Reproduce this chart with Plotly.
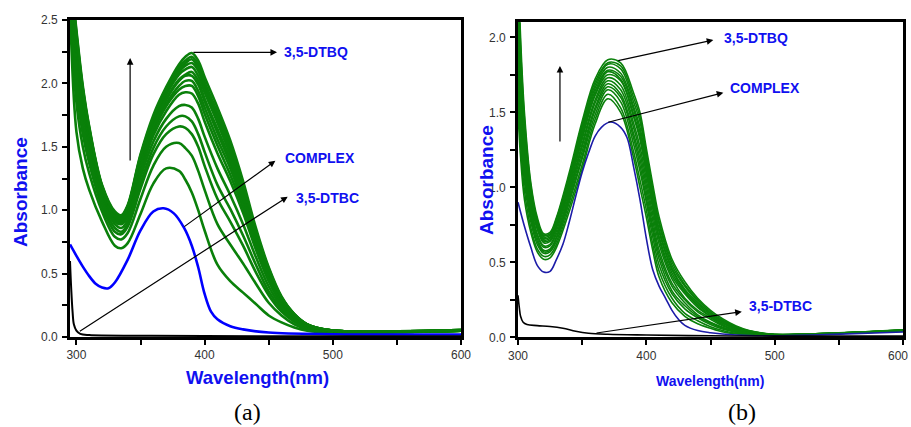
import plotly.graph_objects as go

# ---------------- data: panel (a) ----------------
wl_a = [295, 300, 305, 310, 320, 330, 335, 340, 350, 360, 370, 380, 385, 390, 395, 400,
        410, 420, 430, 440, 450, 460, 470, 480, 500, 550, 600]

a_g01 = [2.60, 1.62, 1.33, 1.16, 0.91, 0.72, 0.70, 0.74, 0.97, 1.21, 1.33, 1.31, 1.24, 1.14, 1.00, 0.84,
         0.57, 0.44, 0.35, 0.26, 0.17, 0.115, 0.075, 0.05, 0.035, 0.04, 0.05]
a_g02 = [2.65, 1.85, 1.50, 1.29, 0.99, 0.79, 0.77, 0.82, 1.09, 1.35, 1.50, 1.53, 1.49, 1.43, 1.31, 1.16,
         0.89, 0.73, 0.58, 0.42, 0.27, 0.17, 0.10, 0.06, 0.04, 0.04, 0.05]
a_g03 = [2.70, 1.97, 1.60, 1.37, 1.03, 0.83, 0.81, 0.87, 1.17, 1.44, 1.60, 1.66, 1.65, 1.60, 1.50, 1.35,
         1.09, 0.91, 0.72, 0.51, 0.33, 0.20, 0.12, 0.07, 0.04, 0.04, 0.05]
a_g04 = [2.72, 2.04, 1.66, 1.42, 1.06, 0.86, 0.83, 0.89, 1.21, 1.49, 1.66, 1.74, 1.74, 1.70, 1.60, 1.46,
         1.20, 1.01, 0.80, 0.57, 0.36, 0.22, 0.13, 0.08, 0.04, 0.04, 0.05]
a_g05 = [2.75, 2.12, 1.73, 1.47, 1.09, 0.89, 0.86, 0.92, 1.26, 1.54, 1.72, 1.82, 1.83, 1.81, 1.72, 1.58,
         1.33, 1.12, 0.89, 0.63, 0.40, 0.24, 0.14, 0.08, 0.04, 0.04, 0.05]
a_g06 = [2.78, 2.20, 1.79, 1.52, 1.12, 0.91, 0.89, 0.95, 1.30, 1.59, 1.78, 1.91, 1.93, 1.92, 1.84, 1.70,
         1.45, 1.23, 0.98, 0.69, 0.44, 0.26, 0.15, 0.09, 0.05, 0.04, 0.05]
a_g07 = [2.80, 2.24, 1.82, 1.54, 1.13, 0.93, 0.90, 0.97, 1.33, 1.62, 1.82, 1.95, 1.98, 1.98, 1.90, 1.76,
         1.51, 1.28, 1.02, 0.72, 0.46, 0.27, 0.16, 0.09, 0.05, 0.04, 0.05]
a_g08 = [2.81, 2.27, 1.85, 1.56, 1.14, 0.94, 0.91, 0.98, 1.35, 1.64, 1.84, 1.98, 2.02, 2.02, 1.94, 1.81,
         1.56, 1.33, 1.05, 0.74, 0.47, 0.28, 0.16, 0.09, 0.05, 0.045, 0.05]
a_g09 = [2.82, 2.30, 1.88, 1.58, 1.15, 0.95, 0.92, 0.99, 1.37, 1.66, 1.87, 2.02, 2.06, 2.06, 1.99, 1.86,
         1.61, 1.37, 1.09, 0.76, 0.49, 0.29, 0.16, 0.09, 0.05, 0.045, 0.05]
a_g10 = [2.83, 2.31, 1.89, 1.59, 1.16, 0.95, 0.92, 1.00, 1.37, 1.67, 1.88, 2.03, 2.07, 2.09, 2.02, 1.88,
         1.64, 1.40, 1.11, 0.78, 0.50, 0.29, 0.17, 0.09, 0.05, 0.045, 0.05]
a_g11 = [2.84, 2.34, 1.92, 1.61, 1.17, 0.96, 0.93, 1.01, 1.39, 1.70, 1.91, 2.07, 2.11, 2.13, 2.06, 1.93,
         1.69, 1.44, 1.14, 0.80, 0.51, 0.30, 0.17, 0.10, 0.05, 0.045, 0.055]
a_g12 = [2.85, 2.37, 1.94, 1.63, 1.18, 0.97, 0.94, 1.02, 1.41, 1.71, 1.93, 2.09, 2.14, 2.16, 2.10, 1.97,
         1.72, 1.47, 1.17, 0.82, 0.52, 0.31, 0.17, 0.10, 0.05, 0.045, 0.055]
a_g13 = [2.86, 2.38, 1.95, 1.64, 1.19, 0.98, 0.95, 1.03, 1.42, 1.72, 1.94, 2.11, 2.16, 2.19, 2.12, 1.99,
         1.75, 1.50, 1.19, 0.83, 0.53, 0.31, 0.18, 0.10, 0.05, 0.045, 0.055]
a_g14 = [2.88, 2.40, 1.96, 1.65, 1.19, 0.98, 0.95, 1.03, 1.43, 1.73, 1.95, 2.13, 2.18, 2.21, 2.15, 2.01,
         1.77, 1.52, 1.20, 0.84, 0.54, 0.31, 0.18, 0.10, 0.05, 0.045, 0.055]
a_g15 = [2.90, 2.42, 1.98, 1.66, 1.20, 0.99, 0.96, 1.04, 1.44, 1.75, 1.97, 2.15, 2.21, 2.24, 2.18, 2.05,
         1.81, 1.55, 1.23, 0.86, 0.55, 0.32, 0.18, 0.10, 0.05, 0.045, 0.055]

wl_a_complex = [295, 300, 305, 310, 315, 320, 325, 330, 340, 350, 360, 368, 376, 384, 390, 395, 400,
                405, 410, 420, 430, 450, 500, 600]
a_complex = [0.73, 0.64, 0.555, 0.48, 0.42, 0.39, 0.385, 0.43, 0.61, 0.84, 0.99, 1.015, 0.975, 0.86,
             0.72, 0.55, 0.34, 0.20, 0.14, 0.085, 0.06, 0.035, 0.022, 0.02]

wl_a_dtbc = [295, 296, 297, 298, 300, 303, 310, 350, 400, 500, 600]
a_dtbc = [0.60, 0.37, 0.20, 0.10, 0.05, 0.025, 0.015, 0.01, 0.008, 0.005, 0.005]

# ---------------- data: panel (b) ----------------
wl_b = [300, 302, 305, 310, 315, 320, 325, 330, 340, 350, 360, 370, 380, 390, 395, 400, 405, 410,
        420, 430, 440, 450, 460, 470, 480, 500, 550, 600]

b_g01 = [1.50, 1.20, 0.92, 0.70, 0.57, 0.52, 0.53, 0.60, 0.84, 1.12, 1.42, 1.59, 1.50, 1.20, 1.00, 0.80, 0.58, 0.40,
         0.23, 0.14, 0.09, 0.06, 0.035, 0.022, 0.015, 0.012, 0.025, 0.04]
b_g02 = [1.61, 1.28, 0.98, 0.73, 0.59, 0.54, 0.55, 0.62, 0.87, 1.15, 1.45, 1.62, 1.53, 1.24, 1.05, 0.85, 0.62, 0.44,
         0.26, 0.16, 0.11, 0.07, 0.044, 0.027, 0.018, 0.013, 0.026, 0.041]
b_g03 = [1.72, 1.37, 1.04, 0.77, 0.62, 0.56, 0.57, 0.64, 0.90, 1.19, 1.48, 1.65, 1.57, 1.29, 1.11, 0.90, 0.67, 0.48,
         0.29, 0.19, 0.13, 0.085, 0.053, 0.033, 0.021, 0.014, 0.026, 0.042]
b_g04 = [1.80, 1.43, 1.09, 0.80, 0.64, 0.57, 0.58, 0.66, 0.92, 1.21, 1.51, 1.67, 1.60, 1.33, 1.15, 0.93, 0.71, 0.52,
         0.31, 0.21, 0.14, 0.095, 0.06, 0.037, 0.024, 0.014, 0.026, 0.043]
b_g05 = [1.89, 1.50, 1.14, 0.82, 0.66, 0.58, 0.59, 0.67, 0.94, 1.24, 1.53, 1.69, 1.62, 1.36, 1.19, 0.97, 0.74, 0.55,
         0.34, 0.23, 0.15, 0.10, 0.066, 0.042, 0.026, 0.015, 0.027, 0.044]
b_g06 = [1.98, 1.57, 1.19, 0.85, 0.68, 0.60, 0.61, 0.69, 0.96, 1.27, 1.56, 1.71, 1.65, 1.40, 1.23, 1.01, 0.78, 0.58,
         0.36, 0.25, 0.17, 0.12, 0.074, 0.046, 0.029, 0.016, 0.027, 0.045]
b_g07 = [2.07, 1.63, 1.23, 0.88, 0.69, 0.61, 0.62, 0.71, 0.98, 1.29, 1.58, 1.73, 1.68, 1.43, 1.27, 1.05, 0.82, 0.62,
         0.39, 0.26, 0.18, 0.13, 0.081, 0.051, 0.031, 0.016, 0.028, 0.045]
b_g08 = [2.16, 1.70, 1.29, 0.91, 0.72, 0.63, 0.64, 0.73, 1.00, 1.32, 1.61, 1.75, 1.71, 1.47, 1.32, 1.09, 0.86, 0.65,
         0.41, 0.29, 0.20, 0.14, 0.089, 0.055, 0.034, 0.017, 0.028, 0.046]
b_g09 = [2.21, 1.74, 1.31, 0.92, 0.73, 0.64, 0.65, 0.74, 1.02, 1.34, 1.62, 1.77, 1.72, 1.49, 1.34, 1.11, 0.88, 0.67,
         0.43, 0.30, 0.21, 0.14, 0.093, 0.058, 0.035, 0.017, 0.028, 0.047]
b_g10 = [2.28, 1.79, 1.35, 0.94, 0.74, 0.65, 0.66, 0.75, 1.03, 1.36, 1.64, 1.78, 1.74, 1.52, 1.37, 1.14, 0.91, 0.70,
         0.45, 0.31, 0.22, 0.15, 0.10, 0.061, 0.037, 0.018, 0.029, 0.047]
b_g11 = [2.34, 1.84, 1.38, 0.96, 0.75, 0.66, 0.67, 0.76, 1.05, 1.38, 1.66, 1.80, 1.76, 1.54, 1.40, 1.17, 0.93, 0.72,
         0.46, 0.32, 0.23, 0.16, 0.10, 0.064, 0.039, 0.018, 0.029, 0.048]
b_g12 = [2.41, 1.90, 1.43, 0.99, 0.77, 0.67, 0.68, 0.77, 1.07, 1.40, 1.68, 1.82, 1.79, 1.57, 1.44, 1.20, 0.96, 0.75,
         0.48, 0.34, 0.24, 0.16, 0.11, 0.068, 0.041, 0.019, 0.029, 0.049]
b_g13 = [2.48, 1.94, 1.46, 1.01, 0.78, 0.68, 0.69, 0.79, 1.08, 1.42, 1.70, 1.83, 1.81, 1.60, 1.47, 1.23, 0.99, 0.77,
         0.50, 0.35, 0.25, 0.17, 0.11, 0.071, 0.043, 0.019, 0.030, 0.049]
b_g14 = [2.55, 2.00, 1.50, 1.03, 0.80, 0.69, 0.70, 0.80, 1.10, 1.44, 1.72, 1.85, 1.83, 1.63, 1.50, 1.26, 1.02, 0.80,
         0.52, 0.37, 0.26, 0.18, 0.12, 0.075, 0.045, 0.02, 0.03, 0.05]

wl_b_complex = [300, 305, 310, 315, 320, 325, 330, 335, 340, 345, 350, 355, 360, 365, 372, 380, 385, 390, 395,
                400, 405, 410, 415, 420, 425, 430, 440, 450, 470, 500, 540, 600]
b_complex = [0.90, 0.74, 0.60, 0.48, 0.435, 0.44, 0.52, 0.62, 0.77, 0.94, 1.10, 1.23, 1.34, 1.40, 1.435, 1.40,
             1.33, 1.14, 0.92, 0.66, 0.45, 0.34, 0.26, 0.18, 0.12, 0.08, 0.045, 0.03, 0.015, 0.01, 0.018, 0.035]

wl_b_dtbc = [300, 301, 302, 304, 307, 315, 325, 335, 345, 355, 370, 400, 450, 500, 600]
b_dtbc = [0.28, 0.20, 0.14, 0.10, 0.085, 0.078, 0.072, 0.06, 0.04, 0.027, 0.02, 0.015, 0.01, 0.008, 0.008]

# ---------------- tick labels ----------------
x_tickvals = [300, 350, 400, 450, 500, 550, 600]
xa_ticktext = ["300", "", "400", "", "500", "", "600"]
xb_ticktext = ["300", "", "400", "", "500", "", ""]
xb_edge_label = "600"
ya_tickvals = [0, 0.25, 0.5, 0.75, 1.0, 1.25, 1.5, 1.75, 2.0, 2.25, 2.5]
ya_ticktext = ["0.0", "", "0.5", "", "1.0", "", "1.5", "", "2.0", "", "2.5"]
yb_tickvals = [0, 0.25, 0.5, 0.75, 1.0, 1.25, 1.5, 1.75, 2.0]
yb_ticktext = ["0.0", "", "0.5", "", "1.0", "", "1.5", "", "2.0"]

label_dtbq = "3,5-DTBQ"
label_complex = "COMPLEX"
label_dtbc = "3,5-DTBC"

# ---------------- figure ----------------
W, H = 911, 427
GREEN = "#0a800a"
BLUE_A = "#0000ff"
BLUE_B = "#1c1ca8"
TXT_BLUE = "#1010f0"

fig = go.Figure()

greens_a = [a_g01, a_g02, a_g03, a_g04, a_g05, a_g06, a_g07, a_g08, a_g09, a_g10, a_g11, a_g12, a_g13, a_g14, a_g15]
for ys in greens_a:
    fig.add_trace(go.Scatter(x=wl_a, y=ys, mode="lines", line=dict(color=GREEN, width=2.6, shape="spline"),
                             xaxis="x", yaxis="y", showlegend=False, hoverinfo="skip"))
fig.add_trace(go.Scatter(x=wl_a_complex, y=a_complex, mode="lines",
                         line=dict(color=BLUE_A, width=2.6, shape="spline"), xaxis="x", yaxis="y", showlegend=False))
fig.add_trace(go.Scatter(x=wl_a_dtbc, y=a_dtbc, mode="lines",
                         line=dict(color="black", width=2, shape="spline"), xaxis="x", yaxis="y", showlegend=False))

greens_b = [b_g01, b_g02, b_g03, b_g04, b_g05, b_g06, b_g07, b_g08, b_g09, b_g10, b_g11, b_g12, b_g13, b_g14]
for ys in greens_b:
    fig.add_trace(go.Scatter(x=wl_b, y=ys, mode="lines", line=dict(color=GREEN, width=1.6, shape="spline"),
                             xaxis="x2", yaxis="y2", showlegend=False, hoverinfo="skip"))
fig.add_trace(go.Scatter(x=wl_b_complex, y=b_complex, mode="lines",
                         line=dict(color=BLUE_B, width=1.6, shape="spline"), xaxis="x2", yaxis="y2", showlegend=False))
fig.add_trace(go.Scatter(x=wl_b_dtbc, y=b_dtbc, mode="lines",
                         line=dict(color="black", width=1.6, shape="spline"), xaxis="x2", yaxis="y2", showlegend=False))

tickfont = dict(family="Liberation Sans, Arial, sans-serif", size=12, color="#333333")
axis_common = dict(showline=True, mirror=True, linecolor="black", linewidth=2.6, ticks="outside",
                   ticklen=5, tickwidth=2, tickcolor="black", showgrid=False, zeroline=False,
                   tickfont=tickfont, fixedrange=True, automargin=False, ticklabeloverflow="allow")

fig.update_layout(
    width=W, height=H, margin=dict(l=0, r=0, t=0, b=0, autoexpand=False),
    paper_bgcolor="white", plot_bgcolor="white",
    xaxis=dict(domain=[70 / W, 461 / W], range=[295, 600], anchor="y",
               tickmode="array", tickvals=x_tickvals, ticktext=xa_ticktext, **axis_common),
    yaxis=dict(domain=[1 - 337 / H, 1 - 20 / H], range=[0, 2.5], anchor="x", ticklabelstandoff=2,
               tickmode="array", tickvals=ya_tickvals, ticktext=ya_ticktext, **axis_common),
    xaxis2=dict(domain=[518 / W, 903 / W], range=[300, 600], anchor="y2",
                tickmode="array", tickvals=x_tickvals, ticktext=xb_ticktext, **axis_common),
    yaxis2=dict(domain=[1 - 337.3 / H, 1 - 22.3 / H], range=[0, 2.1], anchor="x2", ticklabelstandoff=2,
                tickmode="array", tickvals=yb_tickvals, ticktext=yb_ticktext, **axis_common),
)

title_font = "Liberation Sans, Arial, sans-serif"
annotations = []

def label(text, x, y, xref, yref):
    annotations.append(dict(text="<b>%s</b>" % text, x=x, y=y, xref=xref, yref=yref, xanchor="left",
                            yanchor="middle", showarrow=False,
                            font=dict(family=title_font, size=14, color=TXT_BLUE)))

def arrow(tx, ty, hx, hy, xref, yref):
    annotations.append(dict(text="", x=hx, y=hy, ax=tx, ay=ty, xref=xref, yref=yref, axref=xref, ayref=yref,
                            showarrow=True, arrowhead=2, arrowsize=1.1, arrowwidth=1.2, arrowcolor="black",
                            standoff=0, startstandoff=0))

# panel (a) labels and arrows
label(label_dtbq, 460.4, 2.248, "x", "y")
label(label_complex, 461.4, 1.412, "x", "y")
label(label_dtbc, 470.0, 1.096, "x", "y")
arrow(341.9, 1.38, 341.9, 2.20, "x", "y")
arrow(390.1, 2.245, 456.5, 2.245, "x", "y")
arrow(383.0, 0.862, 455.2, 1.39, "x", "y")
arrow(301.5, 0.037, 464.8, 1.106, "x", "y")

# panel (b) labels and arrows
label(label_dtbq, 458.8, 1.995, "x2", "y2")
label(label_complex, 463.4, 1.662, "x2", "y2")
label(label_dtbc, 478.3, 0.209, "x2", "y2")
arrow(332.7, 1.295, 332.7, 1.809, "x2", "y2")
arrow(376.9, 1.842, 452.2, 1.982, "x2", "y2")
arrow(369.1, 1.431, 460.0, 1.631, "x2", "y2")
arrow(360.0, 0.027, 474.4, 0.171, "x2", "y2")

# axis titles and panel tags
def ptext(text, px, py, size, color, family, rot=0, bold=True, xanchor="center"):
    annotations.append(dict(text=("<b>%s</b>" % text) if bold else text, x=px / W, y=1 - py / H,
                            xref="paper", yref="paper", xanchor=xanchor, yanchor="middle",
                            showarrow=False, textangle=rot,
                            font=dict(family=family, size=size, color=color)))

ptext("Absorbance", 20, 192, 19, TXT_BLUE, title_font, rot=-90)
ptext("Wavelength(nm)", 257.5, 377.5, 18.5, TXT_BLUE, title_font)
ptext("Absorbance", 486, 180, 19, TXT_BLUE, title_font, rot=-90)
ptext("Wavelength(nm)", 710, 380.5, 14, TXT_BLUE, title_font)
ptext("(a)", 248, 411.5, 24, "black", "Liberation Serif, Times New Roman, serif", bold=False)
ptext("(b)", 741.5, 411.5, 24, "black", "Liberation Serif, Times New Roman, serif", bold=False)
# last tick label of panel (b), kept inside the page edge
ptext(xb_edge_label, 910, 355.5, 12, "#333333", "Liberation Sans, Arial, sans-serif", bold=False, xanchor="right")

fig.update_layout(annotations=annotations)

fig.write_html("out.html", config={"displayModeBar": False},
               post_script="document.body.style.margin='0';document.body.style.overflow='hidden';")
